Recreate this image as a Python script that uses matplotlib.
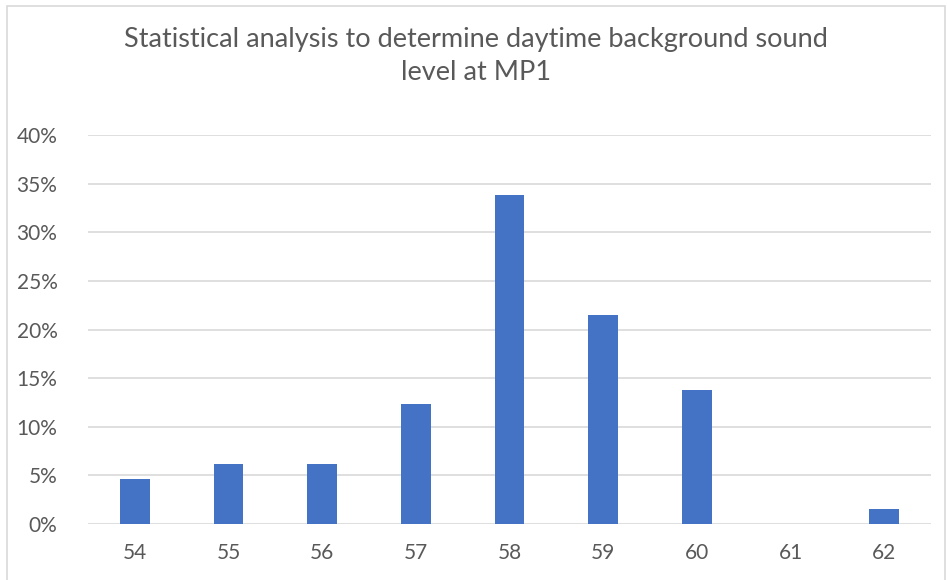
import matplotlib
matplotlib.use("Agg")
import matplotlib.pyplot as plt
from matplotlib.patches import Rectangle
from matplotlib.ticker import PercentFormatter

# Sound level categories (dB) and share of measurements
levels = ["54", "55", "56", "57", "58", "59", "60", "61", "62"]
shares = [0.046, 0.0615, 0.0615, 0.123, 0.338, 0.215, 0.138, 0.0, 0.0154]
yticks = [0, 0.05, 0.10, 0.15, 0.20, 0.25, 0.30, 0.35, 0.40]

plt.rcParams['font.family'] = ['Lato', 'DejaVu Sans']

fig = plt.figure(figsize=(9.47, 5.8), dpi=100)
ax = fig.add_axes([88 / 947, 1 - 524 / 580, (931 - 88) / 947, (524 - 135) / 580])

x = range(len(levels))
ax.bar(x, shares, width=0.32, color='#4472c4', zorder=3)

ax.set_xlim(-0.5, len(levels) - 0.5)
ax.set_ylim(0, 0.4)
ax.set_xticks(list(x))
ax.set_xticklabels(levels)
ax.set_yticks(yticks)
ax.yaxis.set_major_formatter(PercentFormatter(1.0, decimals=0))
ax.tick_params(axis='both', length=0, labelsize=15, colors='#595959')
ax.tick_params(axis='x', pad=14)
ax.tick_params(axis='y', pad=22)
ax.grid(axis='y', color='#d9d9d9', linewidth=1.2, zorder=0)
for s in ax.spines.values():
    s.set_visible(False)

fig.text(0.503, 1 - 40 / 580, "Statistical analysis to determine daytime background sound",
         ha='center', va='center', fontsize=19.5, color='#595959')
fig.text(0.503, 1 - 73 / 580, "level at MP1",
         ha='center', va='center', fontsize=19.5, color='#595959')

# light chart-area border
fig.patches.append(Rectangle((7 / 947, -0.01), 938 / 947, 1.0, transform=fig.transFigure,
                             fill=False, edgecolor='#d9d9d9', linewidth=1.2))

fig.savefig("out.png", dpi=100)
